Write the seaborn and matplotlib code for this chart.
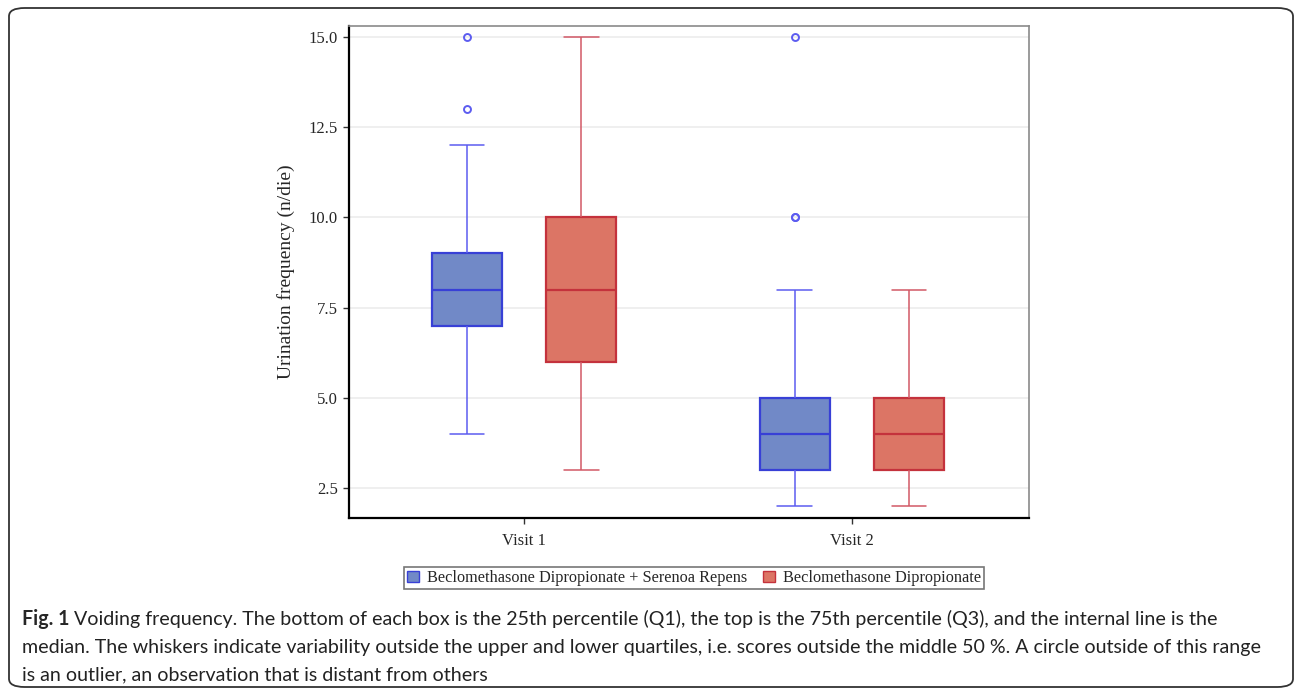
import pandas as pd
import seaborn as sns
import matplotlib.pyplot as plt
import matplotlib.patches as mpatches

# observations per visit / treatment (read to match box stats in the figure)
visits = ['Visit 1', 'Visit 2']
groups = ['Beclomethasone Dipropionate + Serenoa Repens', 'Beclomethasone Dipropionate']

v1_bdsr = [4, 5, 6, 7, 7, 7, 7, 8, 8, 8, 8, 9, 9, 9, 9, 9, 10, 12, 13, 15]
v1_bd = [3, 5, 6, 6, 6, 7, 8, 8, 8, 8, 9, 10, 10, 10, 11, 12, 15]
v2_bdsr = [2, 2, 3, 3, 3, 3, 4, 4, 4, 4, 4, 4, 5, 5, 5, 5, 6, 8, 10, 10, 15]
v2_bd = [2, 3, 3, 3, 3, 4, 4, 4, 4, 4, 5, 5, 5, 5, 6, 7, 8]

yticks = [2.5, 5.0, 7.5, 10.0, 12.5, 15.0]

caption = [
    'Voiding frequency. The bottom of each box is the 25th percentile (Q1), the top is the 75th percentile (Q3), and the internal line is the',
    'median. The whiskers indicate variability outside the upper and lower quartiles, i.e. scores outside the middle 50 %. A circle outside of this range',
    'is an outlier, an observation that is distant from others',
]

rows = []
for v, g, vals in [(visits[0], groups[0], v1_bdsr), (visits[0], groups[1], v1_bd),
                   (visits[1], groups[0], v2_bdsr), (visits[1], groups[1], v2_bd)]:
    for x in vals:
        rows.append({'visit': v, 'group': g, 'freq': x})
df = pd.DataFrame(rows)

sns.set_style('white')
plt.rcParams['font.family'] = ['Liberation Serif', 'DejaVu Serif']

fills = ['#7189c7', '#dc7565']
edges = ['#3840d6', '#c4323c']
whisk = ['#5c5cf0', '#d25866']

fig = plt.figure(figsize=(12.96, 6.89), dpi=100)
ax = fig.add_axes([349 / 1296, 1 - 518 / 689, 680 / 1296, 492 / 689])

sns.boxplot(data=df, x='visit', y='freq', hue='group', order=visits, hue_order=groups,
            palette=fills, width=0.696, gap=0.388, whis=1.5, linewidth=1.5,
            saturation=1, legend=False, ax=ax,
            flierprops={'marker': 'o', 'markersize': 5, 'markerfacecolor': 'none',
                        'markeredgewidth': 1.4})

for i, c in enumerate(ax.containers):
    for b in c.boxes:
        b.set_facecolor(fills[i])
        b.set_edgecolor(edges[i])
        b.set_linewidth(1.6)
    for m in c.medians:
        m.set_color(edges[i])
        m.set_linewidth(1.6)
    for w in list(c.whiskers) + list(c.caps):
        w.set_color(whisk[i])
        w.set_linewidth(1.1)
    for f in c.fliers:
        f.set_markeredgecolor(whisk[i])

ax.set_ylim(1.67, 15.3)
ax.set_xlim(-0.534, 1.54)
ax.set_yticks(yticks)
ax.set_yticklabels([f'{t:.1f}' for t in yticks])
ax.yaxis.grid(True, color='#ececec', linewidth=1.2)
ax.set_axisbelow(True)
ax.set_xlabel('')
ax.set_ylabel('Urination frequency (n/die)', fontsize=14, labelpad=10)
ax.tick_params(axis='both', direction='out', length=4, width=1, labelsize=12,
               left=True, bottom=True, color='#333333', pad=4)
ax.tick_params(axis='x', pad=7)

for s in ['left', 'bottom']:
    ax.spines[s].set_color('black')
    ax.spines[s].set_linewidth(1.6)
for s in ['top', 'right']:
    ax.spines[s].set_color('#8a8a8a')
    ax.spines[s].set_linewidth(1.2)

handles = [mpatches.Patch(facecolor=fills[i], edgecolor=edges[i], linewidth=1, label=groups[i])
           for i in range(2)]
leg = fig.legend(handles=handles, loc='center', bbox_to_anchor=(694 / 1296, 1 - 578 / 689),
                 ncol=2, fontsize=11.7, frameon=True, fancybox=False, handlelength=0.7,
                 handleheight=0.7, handletextpad=0.5, columnspacing=1.0, borderpad=0.2,
                 borderaxespad=0)
leg.get_frame().set_edgecolor('#555555')
leg.get_frame().set_linewidth(1.2)

# outer rounded frame
frame = mpatches.FancyBboxPatch((9 / 1296, 2 / 689), 1284 / 1296, 679 / 689,
                                boxstyle='round,pad=0,rounding_size=0.012',
                                transform=fig.transFigure, fill=False,
                                edgecolor='#333333', linewidth=1.3)
fig.patches.append(frame)

# caption
cap_font = ['Lato', 'DejaVu Sans']
fs = 14.1
renderer = fig.canvas.get_renderer()
ys = [619, 647, 675]
t0 = fig.text(22 / 1296, 1 - ys[0] / 689, 'Fig. 1', fontsize=fs, fontweight='bold',
              family=cap_font, va='center')
w0 = t0.get_window_extent(renderer).width
fig.text((22 + w0 + 5) / 1296, 1 - ys[0] / 689, caption[0], fontsize=fs,
         family=cap_font, va='center', color='#222222')
for line, y in zip(caption[1:], ys[1:]):
    fig.text(22 / 1296, 1 - y / 689, line, fontsize=fs, family=cap_font, va='center',
             color='#222222')

fig.savefig('out.png', dpi=100)
